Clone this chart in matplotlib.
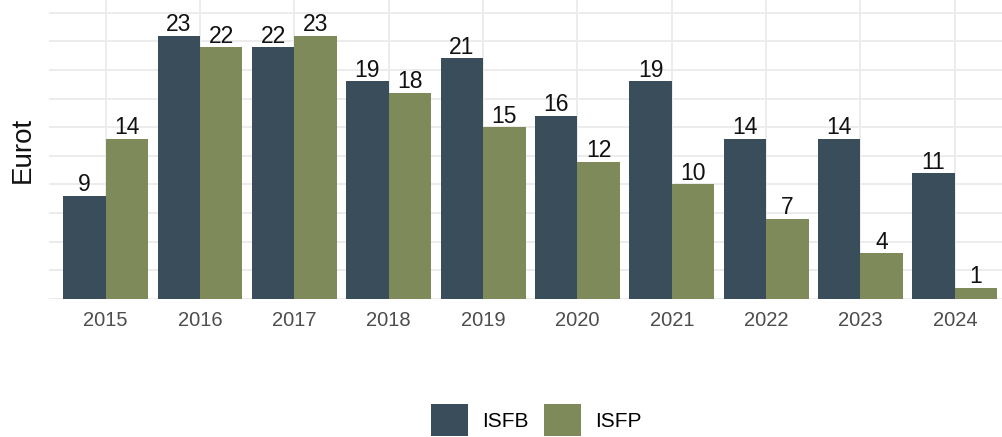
import numpy as np
import matplotlib.pyplot as plt
from matplotlib.patches import Patch

plt.rcParams['font.family'] = ['Liberation Sans', 'DejaVu Sans']

years = ['2015', '2016', '2017', '2018', '2019', '2020', '2021', '2022', '2023', '2024']
isfb = [9, 23, 22, 19, 21, 16, 19, 14, 14, 11]
isfp = [14, 22, 23, 18, 15, 12, 10, 7, 4, 1]
series_names = ['ISFB', 'ISFP']
colors = ['#394d5a', '#7f8a5a']

fig = plt.figure(figsize=(10.02, 4.37), dpi=100)
ax = fig.add_axes([49 / 1002, 1 - 299 / 437, 1 - 49 / 1002, 299 / 437])

x = np.arange(1, len(years) + 1)
w = 0.45
b1 = ax.bar(x - w / 2, isfb, w, color=colors[0], zorder=2)
b2 = ax.bar(x + w / 2, isfp, w, color=colors[1], zorder=2)

for bars, vals in [(b1, isfb), (b2, isfp)]:
    for r, v in zip(bars, vals):
        ax.text(r.get_x() + r.get_width() / 2, v - 0.05, str(v), ha='center', va='bottom',
                fontsize=16.5, color='#111111', zorder=3)

ax.set_xlim(0.4, 10.5)
ax.set_ylim(0, 26.1)
ax.set_yticks(np.arange(0, 26, 5))
ax.set_yticks(np.arange(2.5, 26, 5), minor=True)
ax.set_xticks(x)
ax.set_xticklabels(years)
ax.grid(True, which='major', color='#ebebeb', linewidth=1.3, zorder=0)
ax.grid(True, which='minor', axis='y', color='#ebebeb', linewidth=1.3, zorder=0)
ax.set_axisbelow(True)
ax.tick_params(axis='both', which='both', length=0)
ax.tick_params(axis='x', labelsize=14.5, labelcolor='#4d4d4d', pad=9)
ax.set_yticklabels([])
for s in ax.spines.values():
    s.set_visible(False)
ax.set_ylabel('Eurot', fontsize=20, color='#111111', labelpad=6)

handles = [Patch(facecolor=c, label=n) for c, n in zip(colors, series_names)]
fig.legend(handles=handles, loc='center', bbox_to_anchor=(536 / 1002, 1 - 420 / 437),
           ncol=2, frameon=False, fontsize=15, handlelength=1.8, handleheight=2.0,
           columnspacing=0.75, handletextpad=0.65, borderpad=0)

fig.savefig('out.png', dpi=100)
